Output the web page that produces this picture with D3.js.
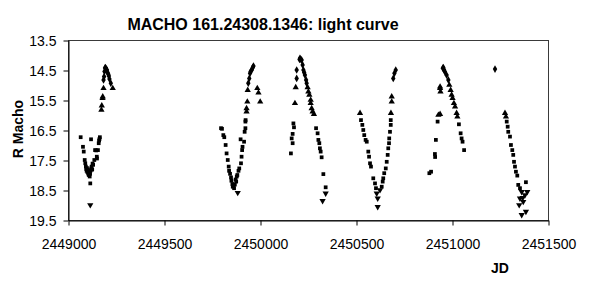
<!DOCTYPE html>
<html>
<head>
<meta charset="utf-8">
<script src="https://cdn.jsdelivr.net/npm/d3@7"></script>
<style>
  body { margin: 0; background: #fff; }
  text { font-family: "Liberation Sans", Arial, sans-serif; fill: #000; }
</style>
</head>
<body>
<div id="chart"></div>
<script>
// light curve points per observing season: [JD, R magnitude]
const season1 = [
  [2449066, 16.74], [2449078, 17.06], [2449082, 17.22], [2449087, 17.5], [2449090, 17.61],
  [2449093, 17.72], [2449095, 17.8], [2449097, 17.86], [2449099, 17.77], [2449101, 17.9],
  [2449103, 17.83], [2449105, 17.95], [2449108, 18.0], [2449110, 17.88], [2449112, 17.93],
  [2449113, 18.05], [2449115, 17.96], [2449116, 18.28], [2449116, 19.0], [2449118, 17.85],
  [2449120, 16.81], [2449121, 17.78], [2449123, 17.72], [2449126, 17.82], [2449128, 17.62],
  [2449131, 17.66], [2449137, 17.5], [2449141, 17.17], [2449147, 17.18], [2449150, 17.39],
  [2449151, 17.45], [2449156, 17.17], [2449160, 16.94], [2449162, 16.85], [2449164, 16.8],
  [2449166, 16.74], [2449174, 15.83], [2449176, 15.69], [2449180, 15.44], [2449181, 15.39],
  [2449185, 15.11], [2449185, 14.83], [2449188, 14.72], [2449190, 14.55], [2449193, 14.43],
  [2449195, 14.42], [2449197, 14.45], [2449200, 14.48], [2449203, 14.5], [2449206, 14.58],
  [2449210, 14.64], [2449213, 14.7], [2449216, 14.8], [2449223, 14.94], [2449233, 15.11]
];
const season2 = [
  [2449797, 16.44], [2449802, 16.46], [2449809, 16.67], [2449814, 16.74], [2449821, 17.0],
  [2449826, 17.28], [2449832, 17.5], [2449837, 17.72], [2449839, 17.86], [2449844, 17.96],
  [2449849, 18.08], [2449851, 18.19], [2449856, 18.3], [2449858, 18.39], [2449862, 18.34],
  [2449865, 18.44], [2449869, 18.32], [2449873, 18.15], [2449876, 18.22], [2449879, 18.05],
  [2449882, 18.0], [2449884, 18.59], [2449888, 17.86], [2449892, 17.78], [2449899, 16.81],
  [2449901, 17.61], [2449904, 17.39], [2449907, 17.17], [2449909, 17.06], [2449917, 16.89],
  [2449920, 16.56], [2449924, 16.44], [2449924, 16.22], [2449925, 16.17], [2449930, 15.89],
  [2449930, 15.78], [2449934, 15.56], [2449936, 15.17], [2449939, 14.94], [2449944, 14.78],
  [2449948, 14.61], [2449951, 14.55], [2449957, 14.5], [2449962, 14.42], [2449966, 14.37],
  [2449986, 15.11], [2449992, 15.26], [2450001, 15.56]
];
const season3 = [
  [2450161, 17.28], [2450165, 16.78], [2450170, 16.94], [2450170, 16.63], [2450174, 16.28],
  [2450177, 16.41], [2450182, 15.61], [2450186, 15.08], [2450191, 14.78], [2450191, 14.5],
  [2450206, 14.15], [2450208, 14.11], [2450212, 14.14], [2450217, 14.17], [2450222, 14.33],
  [2450226, 14.5], [2450230, 14.58], [2450234, 14.67], [2450240, 14.83], [2450243, 14.94],
  [2450248, 15.08], [2450252, 15.22], [2450257, 15.33], [2450264, 15.5], [2450264, 15.61],
  [2450269, 15.78], [2450274, 15.89], [2450281, 15.97], [2450292, 16.44], [2450300, 16.61],
  [2450304, 16.83], [2450309, 16.94], [2450312, 17.11], [2450316, 17.22], [2450321, 17.41],
  [2450326, 18.86], [2450330, 17.97], [2450342, 18.41], [2450342, 18.61]
];
const season4 = [
  [2450521, 15.94], [2450526, 16.17], [2450533, 16.33], [2450538, 16.5], [2450543, 16.67],
  [2450550, 16.83], [2450556, 16.89], [2450564, 17.22], [2450568, 17.39], [2450573, 17.61],
  [2450578, 17.72], [2450590, 18.11], [2450599, 18.28], [2450604, 18.44], [2450608, 18.61],
  [2450613, 18.78], [2450613, 19.06], [2450625, 18.5], [2450634, 18.39], [2450639, 18.22],
  [2450642, 18.11], [2450647, 17.94], [2450655, 17.78], [2450660, 17.56], [2450665, 17.33],
  [2450668, 17.11], [2450672, 16.94], [2450673, 16.78], [2450677, 16.56], [2450681, 16.33],
  [2450681, 16.17], [2450682, 15.94], [2450686, 15.56], [2450686, 15.39], [2450694, 14.78],
  [2450700, 14.61], [2450707, 14.5]
];
const season5 = [
  [2450882, 17.94], [2450891, 17.89], [2450911, 17.3], [2450912, 17.4], [2450916, 16.83],
  [2450925, 16.22], [2450929, 16.0], [2450938, 15.97], [2450938, 15.11], [2450938, 15.06],
  [2450940, 15.22], [2450952, 14.44], [2450955, 14.42], [2450959, 14.5], [2450963, 14.56],
  [2450972, 14.67], [2450981, 14.83], [2450986, 15.0], [2450993, 15.17], [2450998, 15.33],
  [2451003, 15.44], [2451010, 15.61], [2451016, 15.72], [2451024, 15.94], [2451028, 16.06],
  [2451036, 16.31], [2451045, 16.61], [2451050, 16.78], [2451055, 16.89], [2451063, 17.17]
];
const season6 = [
  [2451224, 14.47], [2451276, 15.94], [2451281, 16.06], [2451285, 16.22], [2451290, 16.39],
  [2451293, 16.56], [2451302, 16.72], [2451307, 17.0], [2451314, 17.17], [2451319, 17.33],
  [2451323, 17.56], [2451328, 17.72], [2451333, 17.89], [2451340, 18.02], [2451345, 18.33],
  [2451350, 19.0], [2451354, 18.44], [2451354, 18.78], [2451363, 18.56], [2451363, 19.33],
  [2451368, 18.76], [2451371, 18.89], [2451380, 18.67], [2451385, 18.24], [2451385, 19.22],
  [2451392, 18.56]
];

const xTicks = [2449000, 2449500, 2450000, 2450500, 2451000, 2451500];
const yTicks = [13.5, 14.5, 15.5, 16.5, 17.5, 18.5, 19.5];

const allPoints = [].concat(season1, season2, season3, season4, season5, season6);

const W = 589, H = 293;
const margin = { top: 40, right: 41, bottom: 73, left: 68 };
const width = W - margin.left - margin.right;
const height = H - margin.top - margin.bottom;

const svg = d3.select('#chart').append('svg')
  .attr('width', W)
  .attr('height', H);

const g = svg.append('g')
  .attr('transform', `translate(${margin.left},${margin.top})`);

const x = d3.scaleLinear().domain([2449000, 2451500]).range([0, width]);
const y = d3.scaleLinear().domain([13.5, 19.5]).range([0, height]);

// plot area border (top/right)
g.append('rect')
  .attr('x', 0.5).attr('y', 0.5)
  .attr('width', width).attr('height', height)
  .attr('fill', 'none')
  .attr('stroke', '#3a3a3a')
  .attr('stroke-width', 1);

// marker shape picked from brightness, like the mixed glyphs of the original
function shapeFor(m) {
  if (m >= 18.45) return d3.symbolTriangle;
  if (m < 15.0) return d3.symbolDiamond;
  if (m < 16.1) return d3.symbolTriangle;
  return d3.symbolSquare;
}

g.selectAll('.pt')
  .data(allPoints)
  .enter().append('path')
  .attr('class', 'pt')
  .attr('d', d => d3.symbol().type(shapeFor(d[1])).size(shapeFor(d[1]) === d3.symbolSquare ? 14 : 17)())
  .attr('transform', d => {
    const flip = d[1] >= 18.45 ? ' rotate(180)' : '';
    return `translate(${x(d[0])},${y(d[1])})${flip}`;
  })
  .attr('fill', '#000');

// axes
const xAxis = g.append('g')
  .attr('transform', `translate(0.5,${height + 0.5})`)
  .call(d3.axisBottom(x).tickValues(xTicks).tickSize(5).tickSizeOuter(0).tickFormat(d3.format('d')));

const yAxis = g.append('g')
  .attr('transform', 'translate(0.5,0.5)')
  .call(d3.axisLeft(y).tickValues(yTicks).tickSize(5).tickSizeOuter(0).tickFormat(d3.format('.1f')));

svg.selectAll('.domain').attr('stroke', '#000');
svg.selectAll('.tick line').attr('stroke', '#000');
xAxis.selectAll('.tick text')
  .attr('font-size', 14).attr('dy', null).attr('y', 28)
  .attr('font-family', '"Liberation Sans", Arial, sans-serif');
yAxis.selectAll('.tick text')
  .attr('font-size', 14).attr('x', -12).attr('dy', '0.36em')
  .attr('font-family', '"Liberation Sans", Arial, sans-serif');

// title
svg.append('text')
  .attr('x', 263).attr('y', 30)
  .attr('text-anchor', 'middle')
  .attr('font-size', 16).attr('font-weight', 'bold')
  .text('MACHO 161.24308.1346: light curve');

// axis titles
svg.append('text')
  .attr('transform', 'translate(23,129) rotate(-90)')
  .attr('text-anchor', 'middle')
  .attr('font-size', 14).attr('font-weight', 'bold')
  .text('R Macho');

svg.append('text')
  .attr('x', 500).attr('y', 273)
  .attr('text-anchor', 'middle')
  .attr('font-size', 14).attr('font-weight', 'bold')
  .text('JD');
</script>
</body>
</html>
